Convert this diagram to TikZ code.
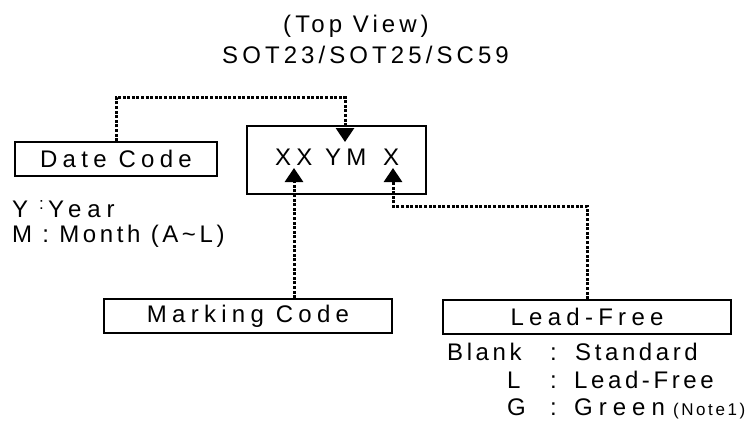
\documentclass[tikz,border=0pt]{standalone}
\usepackage{fontspec}
\setmainfont{Liberation Sans}
\newfontfamily\ftitle{Liberation Sans}[LetterSpace=17]
\newfontfamily\fboxlbl{Liberation Sans}[LetterSpace=22]
\newfontfamily\fleg{Liberation Sans}[LetterSpace=15]
\newfontfamily\fwide{Liberation Sans}[LetterSpace=25]
\usetikzlibrary{arrows.meta}
\begin{document}
\begin{tikzpicture}[x=1pt,y=-1pt,
  box/.style={draw,line width=1.7pt,minimum height=34pt,inner sep=0pt,font=\fboxlbl\fontsize{24}{28}\selectfont},
  txt/.style={inner sep=0pt,anchor=base west},
  ttl/.style={txt,font=\ftitle\fontsize{24}{28}\selectfont},
  mk/.style={txt,font=\fboxlbl\fontsize{24}{28}\selectfont},
  leg/.style={txt,font=\fleg\fontsize{24}{28}\selectfont},
  wide/.style={txt,font=\fwide\fontsize{24}{28}\selectfont},
  small/.style={txt,font=\fleg\fontsize{17}{20}\selectfont},
  conn/.style={line width=3pt,dash pattern=on 3pt off 1.6pt,-{Triangle[width=18pt,length=14pt]}}]
\useasboundingbox (0,0) rectangle (749,426);
% titles
\node[ttl] (top) at (283,32) {(Top View)};
\node[ttl] (pkg) at (222,63) {SOT23/SOT25/SC59};
% boxes
\node[box,minimum width=202pt] (date) at (116,159) {Date Code};
\node[box,minimum width=179pt,minimum height=68pt] (main) at (336.5,160) {};
\node[mk] (xx) at (275,165) {XX};
\node[mk] (ym) at (325,165) {YM};
\node[mk] (xl) at (383,165) {X};
\node[box,minimum width=288pt] (mark) at (248,316) {Marking Code};
\node[box,minimum width=288pt] (lead) at (587,317) {Lead-Free};
% arrow targets
\coordinate (ymt) at (345,142);
\coordinate (mkt) at (294,168);
\coordinate (lft) at (393,168);
% connectors
\draw[conn] (date.north) -- ++(0,-44) -| (ymt);
\draw[conn] (mark.north -| mkt) -- (mkt);
\draw[conn] (lead.north) -- ++(0,-93) -| (lft);
% date code legend
\node[leg] (yy) at (12,217) {Y};
\node[small] (yc) at (39,209) {:};
\node[wide] (yr) at (48,217) {Year};
\node[leg] (mm) at (12,242) {M : Month (A\textasciitilde L)};
% lead free legend
\node[leg] (bl) at (447,360) {Blank};
\node[leg] (c1) at (550,360) {:};
\node[leg] (st) at (575,360) {Standard};
\node[leg] (ll) at (507,388) {L};
\node[leg] (c2) at (550,388) {:};
\node[leg] (lf) at (574,388) {Lead-Free};
\node[leg] (gg) at (507,415) {G};
\node[leg] (c3) at (550,415) {:};
\node[wide] (gr) at (574,415) {Green};
\node[small] (nt) at (673,415) {(Note1)};
\end{tikzpicture}
\end{document}
